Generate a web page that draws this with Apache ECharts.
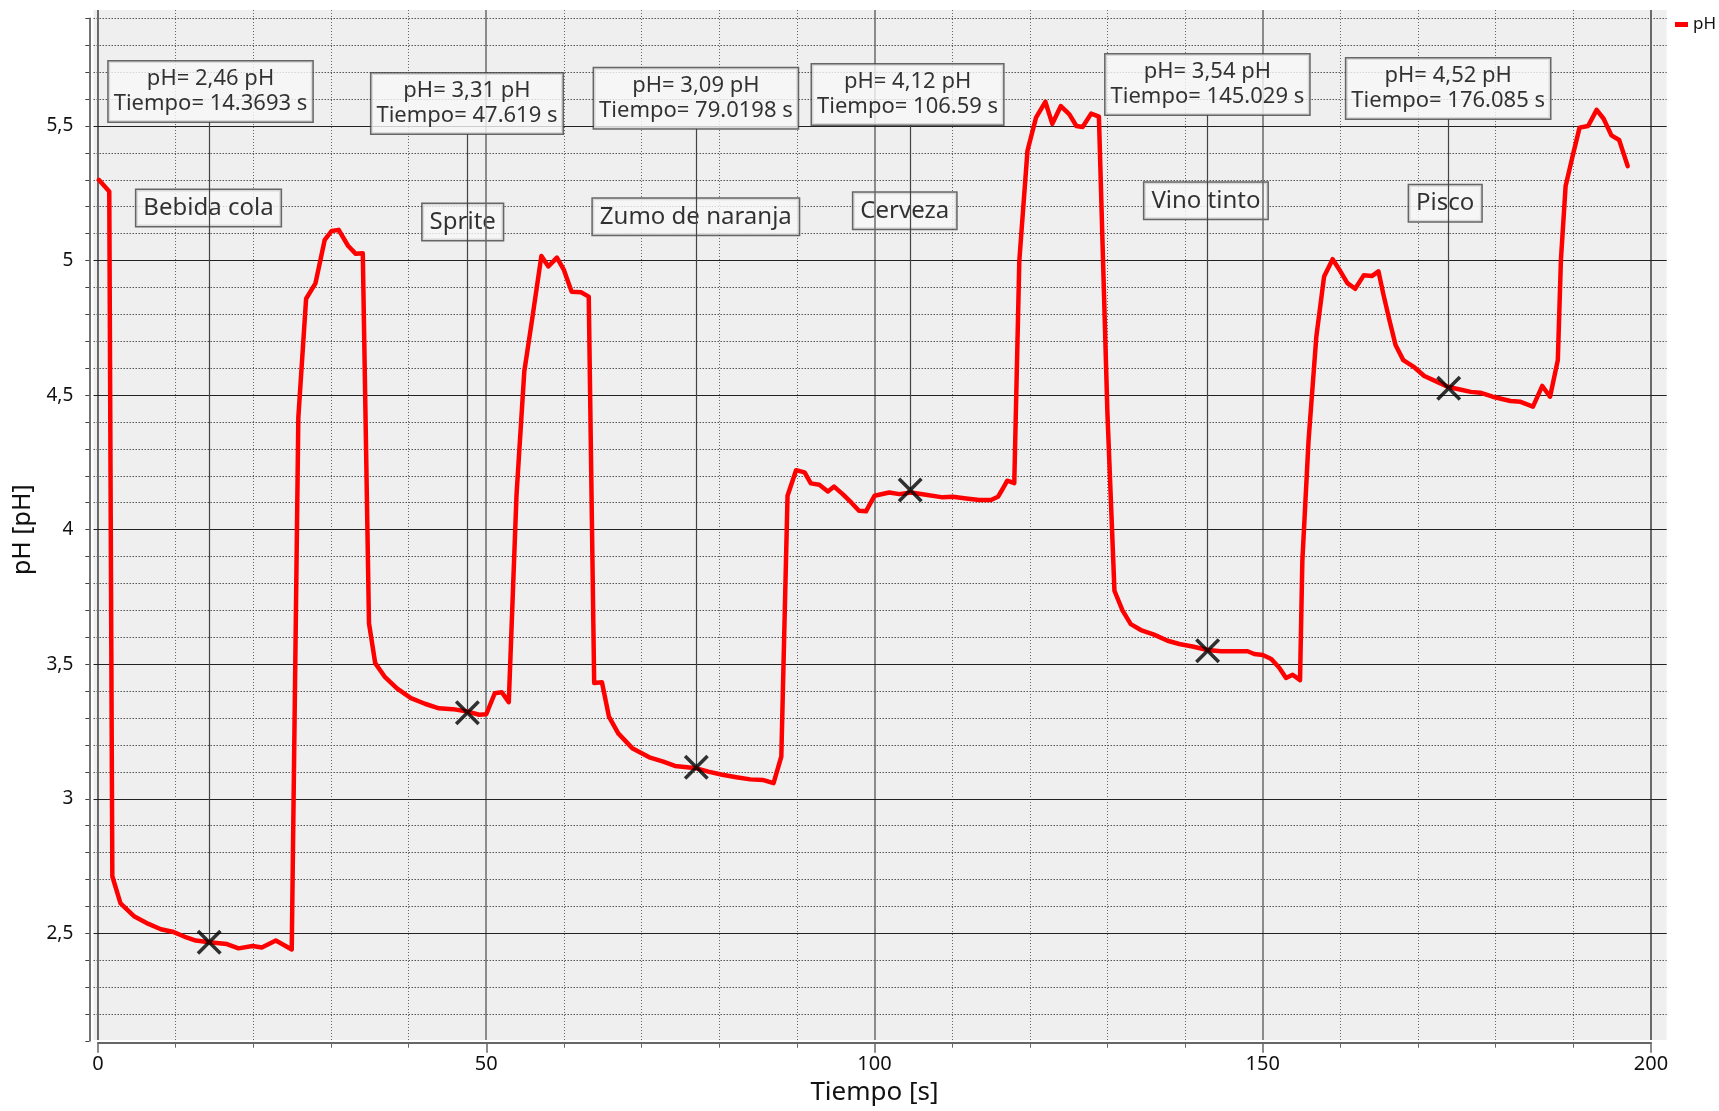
<!DOCTYPE html>
<html>
<head>
<meta charset="utf-8">
<script src="https://cdn.jsdelivr.net/npm/echarts@6/dist/echarts.min.js"></script>
<style>
html,body{margin:0;padding:0;background:#ffffff;}
#chart{width:1719px;height:1111px;}
</style>
</head>
<body>
<div id="chart"></div>
<script>
// ---------------- DATA ----------------
const tiempo = [
  0.1, 1.45, 1.85, 2.9, 4.7, 6.5, 8.1, 9.6, 11.1, 12.6, 14.3, 16.6, 18.1, 19.9, 21.1, 22.9, 24.95,
  25.8, 26.8, 28.0, 29.2, 30.1, 31.0, 32.2, 33.2, 34.1,
  34.9, 35.7, 36.9, 38.5, 40.3, 42.1, 43.9, 45.7, 47.6, 49.1, 50.0, 51.1, 52.0, 52.9,
  53.9, 54.9, 55.9, 57.1, 58.0, 59.1, 60.0, 61.0, 62.2, 63.2,
  63.9, 64.9, 65.8, 67.0, 68.8, 71.0, 72.8, 74.3, 77.1, 78.6, 80.4, 82.2, 84.0, 85.6, 87.0, 88.0,
  88.8, 89.9, 91.0, 91.8, 92.9, 94.0, 94.8, 95.9, 97.0, 98.0, 98.9, 100.0, 101.9, 103.2, 104.7, 106.6, 108.8, 110.1, 111.8, 113.5, 115.0, 115.9, 116.5, 117.1, 118.0,
  118.65, 119.7, 120.8, 122.0, 122.9, 124.0, 125.1, 126.0, 126.8, 127.9, 128.9,
  130.0, 130.7, 130.9, 131.95, 133.0, 134.3, 136.0, 137.75, 139.25, 140.95, 142.9, 144.6, 146.3, 148.05, 148.9, 150.0, 151.1, 152.1, 153.0, 153.85, 154.8,
  155.1, 155.9, 156.9, 157.9, 159.0, 160.0, 160.9, 161.9, 163.0, 164.1, 164.9, 165.5, 166.3, 167.1, 168.1, 169.4, 170.8, 172.4, 173.8, 175.4, 176.8, 178.0, 179.6, 181.9, 183.2, 184.8, 186.0, 187.0, 188.0,
  188.4, 189.0, 189.9, 190.8, 191.9, 193.0, 193.9, 194.9, 195.9, 197.0
];
const ph = [
  5.30, 5.257, 2.711, 2.611, 2.562, 2.535, 2.515, 2.506, 2.488, 2.473, 2.467, 2.46, 2.444, 2.453, 2.447, 2.473, 2.44,
  4.417, 4.858, 4.915, 5.077, 5.11, 5.114, 5.055, 5.025, 5.027,
  3.652, 3.504, 3.454, 3.41, 3.374, 3.353, 3.336, 3.333, 3.324, 3.312, 3.314, 3.392, 3.396, 3.359,
  4.13, 4.588, 4.78, 5.017, 4.978, 5.011, 4.965, 4.884, 4.882, 4.866,
  3.43, 3.433, 3.305, 3.243, 3.188, 3.154, 3.138, 3.122, 3.113, 3.101, 3.089, 3.08, 3.072, 3.07, 3.058, 3.157,
  4.126, 4.221, 4.213, 4.172, 4.167, 4.142, 4.16, 4.132, 4.101, 4.07, 4.068, 4.126, 4.138, 4.132, 4.138, 4.13, 4.12, 4.122, 4.116, 4.11, 4.11, 4.122, 4.151, 4.182, 4.173,
  5.0, 5.408, 5.531, 5.59, 5.508, 5.574, 5.543, 5.5, 5.496, 5.546, 5.535,
  4.43, 3.92, 3.773, 3.699, 3.649, 3.627, 3.61, 3.587, 3.575, 3.566, 3.553, 3.548, 3.548, 3.548, 3.538, 3.534, 3.519, 3.488, 3.449, 3.461, 3.441,
  3.884, 4.332, 4.717, 4.941, 5.005, 4.96, 4.916, 4.895, 4.945, 4.943, 4.96, 4.879, 4.78, 4.686, 4.63, 4.606, 4.571, 4.55, 4.531, 4.521, 4.512, 4.509, 4.494, 4.478, 4.475, 4.457, 4.534, 4.494, 4.63,
  5.003, 5.276, 5.388, 5.494, 5.5, 5.56, 5.527, 5.465, 5.448, 5.351
];

// Sample names (label boxes) and their anchor (centre) in data units
const muestras = ["Bebida cola", "Sprite", "Zumo de naranja", "Cerveza", "Vino tinto", "Pisco"];
const muestraT  = [14.23, 46.97, 76.99, 103.9, 142.68, 173.5];
const muestraPH = [5.195, 5.143, 5.163, 5.185, 5.222, 5.213];

// Cursor markers (X)
const marcaT  = [14.32, 47.57, 77.05, 104.6, 142.9, 173.95];
const marcaPH = [2.467, 3.32, 3.117, 4.147, 3.55, 4.525];

// Annotation readouts (text) and box anchor (bottom-centre) in data units
const anotPH     = ["2,46", "3,31", "3,09", "4,12", "3,54", "4,52"];
const anotTiempo = ["14.3693", "47.619", "79.0198", "106.59", "145.029", "176.085"];
const anotT  = [14.49, 47.52, 77.0, 104.26, 142.87, 173.88];
const anotY  = [5.515, 5.470, 5.490, 5.504, 5.541, 5.526];

// Tick values
const xMajor = [0, 50, 100, 150, 200];
const xMinor = [10, 20, 30, 40, 60, 70, 80, 90, 110, 120, 130, 140, 160, 170, 180, 190];
const yMajor = [2.5, 3, 3.5, 4, 4.5, 5, 5.5];
const yMinor = [2.2, 2.3, 2.4, 2.6, 2.7, 2.8, 2.9, 3.1, 3.2, 3.3, 3.4, 3.6, 3.7, 3.8, 3.9,
                4.1, 4.2, 4.3, 4.4, 4.6, 4.7, 4.8, 4.9, 5.1, 5.2, 5.3, 5.4, 5.6, 5.7, 5.8, 5.9];

// ---------------- LAYOUT ----------------
const FONT = "'Noto Sans', 'Open Sans', sans-serif";
const X0 = 98, KX = 7.765;      // px of t=0, px per second
const Y55 = 126, KY = 269.1;    // px of pH 5.5, px per pH unit
const pxX = t => X0 + t * KX;
const pxY = v => Y55 - (v - 5.5) * KY;
// plot (gray) area
const bgL = 93.5, bgR = 1666.7, bgT = 10, bgB = 1040;
const xMinA = (bgL - X0) / KX, xMaxA = (bgR - X0) / KX;
const yMaxA = 5.5 + (Y55 - bgT) / KY, yMinA = 5.5 - (bgB - Y55) / KY;
// axis frame grid (0..200, 2.1..5.9)
const gBleft = pxX(0), gBright = 1719 - pxX(200), gBtop = pxY(5.9), gBbottom = 1111 - pxY(2.1);

const chart = echarts.init(document.getElementById('chart'), null, {renderer: 'canvas'});

const serie = tiempo.map((t, i) => [t, ph[i]]);

const minorLines = [];
xMinor.forEach(v => minorLines.push({xAxis: v, lineStyle: {color: '#666', width: 1, type: [1, 2]}}));
yMinor.forEach(v => minorLines.push({yAxis: v, lineStyle: {color: '#555', width: 1, type: [1.5, 1.5]}}));

const majorLines = [];
xMajor.forEach(v => majorLines.push({xAxis: v, lineStyle: {color: '#6a6a6a', width: (v === 0 || v === 200) ? 2 : 1.5, type: 'solid'}}));
yMajor.forEach(v => majorLines.push({yAxis: v, lineStyle: {color: '#222', width: 1.2, type: 'solid'}}));
marcaT.forEach((t, i) => majorLines.push([
  {coord: [t, anotY[i]], lineStyle: {color: '#444', width: 1.2, type: 'solid'}},
  {coord: [t, marcaPH[i]]}
]));

const option = {
  animation: false,
  backgroundColor: '#ffffff',
  textStyle: {fontFamily: FONT},
  legend: {
    data: ['pH'],
    left: 1675, top: 16, padding: 0,
    icon: 'rect', itemWidth: 13, itemHeight: 5,
    textStyle: {fontSize: 17, color: '#111', fontFamily: FONT},
    selectedMode: false
  },
  grid: [
    {left: bgL, right: 1719 - bgR, top: bgT, bottom: 1111 - bgB, show: true, backgroundColor: '#efefef', borderWidth: 0},
    {left: gBleft, right: gBright, top: gBtop, bottom: gBbottom, show: false}
  ],
  xAxis: [
    {gridIndex: 0, type: 'value', min: xMinA, max: xMaxA, show: false, splitLine: {show: false}},
    {gridIndex: 1, type: 'value', min: 0, max: 200, interval: 50, position: 'bottom', offset: 1.8,
     axisLine: {show: true, onZero: false, lineStyle: {color: '#666', width: 2}},
     axisTick: {show: true, length: 10, lineStyle: {color: '#666', width: 1.5}},
     minorTick: {show: true, splitNumber: 5, length: 5, lineStyle: {color: '#666', width: 1}},
     splitLine: {show: false}, minorSplitLine: {show: false},
     axisLabel: {fontSize: 20, color: '#111', margin: 12, fontFamily: FONT},
     name: 'Tiempo [s]', nameLocation: 'middle', nameGap: 34,
     nameTextStyle: {fontSize: 26, color: '#111', fontFamily: FONT}}
  ],
  yAxis: [
    {gridIndex: 0, type: 'value', min: yMinA, max: yMaxA, show: false, splitLine: {show: false}},
    {gridIndex: 1, type: 'value', min: 2.1, max: 5.9, interval: 0.1, position: 'left', offset: 8.7,
     axisLine: {show: true, onZero: false, lineStyle: {color: '#444', width: 1.5}},
     axisTick: {show: true, length: 4, lineStyle: {color: '#444', width: 1}},
     splitLine: {show: false},
     axisLabel: {
       fontSize: 19, color: '#111', margin: 16, fontFamily: FONT,
       formatter: v => {
         const r = Math.round(v * 10) / 10;
         return Math.abs(r * 2 - Math.round(r * 2)) < 1e-9 ? String(r).replace('.', ',') : '';
       }
     },
     name: 'pH [pH]', nameLocation: 'middle', nameGap: 44,
     nameTextStyle: {fontSize: 25, color: '#111', fontFamily: FONT}}
  ],
  series: [
    {
      name: 'minor', type: 'line', xAxisIndex: 0, yAxisIndex: 0, data: [], silent: true, z: 1,
      markLine: {z: 1, silent: true, symbol: ['none', 'none'], label: {show: false}, animation: false, data: minorLines}
    },
    {
      name: 'muestras', type: 'scatter', xAxisIndex: 0, yAxisIndex: 0, z: 2, silent: true,
      symbolSize: 1, itemStyle: {color: 'rgba(0,0,0,0)'},
      emphasis: {disabled: true},
      data: muestraT.map((t, i) => [t, muestraPH[i]]),
      label: {
        show: true, position: 'inside', color: '#000', fontSize: 24, lineHeight: 30, fontFamily: FONT,
        formatter: p => muestras[p.dataIndex],
        backgroundColor: '#f7f7f7', borderColor: '#444', borderWidth: 1.5, padding: [3, 7, 3, 7]
      }
    },
    {
      name: 'major', type: 'line', xAxisIndex: 0, yAxisIndex: 0, data: [], silent: true, z: 3,
      markLine: {z: 3, silent: true, symbol: ['none', 'none'], label: {show: false}, animation: false, data: majorLines}
    },
    {
      name: 'pH', type: 'line', xAxisIndex: 0, yAxisIndex: 0, z: 4,
      data: serie, showSymbol: false, symbol: 'none', smooth: false,
      color: '#ff0000',
      lineStyle: {color: '#ff0000', width: 4.5, join: 'round', cap: 'round'},
      emphasis: {disabled: true}
    },
    {
      name: 'marcas', type: 'scatter', xAxisIndex: 0, yAxisIndex: 0, z: 5, silent: true,
      symbol: 'path://M2,0 L10,8 L18,0 L20,2 L12,10 L20,18 L18,20 L10,12 L2,20 L0,18 L8,10 L0,2 Z',
      symbolSize: 25, itemStyle: {color: '#000'},
      emphasis: {disabled: true},
      data: marcaT.map((t, i) => [t, marcaPH[i]])
    },
    {
      name: 'anotaciones', type: 'scatter', xAxisIndex: 0, yAxisIndex: 0, z: 6, silent: true,
      symbolSize: 1, itemStyle: {color: 'rgba(0,0,0,0)'},
      emphasis: {disabled: true},
      data: anotT.map((t, i) => [t, anotY[i]]),
      label: {
        show: true, position: 'top', distance: 0, color: '#000', fontSize: 22, lineHeight: 25, fontFamily: FONT,
        align: 'center',
        formatter: p => 'pH= ' + anotPH[p.dataIndex] + ' pH\nTiempo= ' + anotTiempo[p.dataIndex] + ' s',
        backgroundColor: '#f7f7f7', borderColor: '#444', borderWidth: 1.5, padding: [5, 5, 5, 5]
      }
    }
  ]
};
chart.setOption(option);
</script>
</body>
</html>
